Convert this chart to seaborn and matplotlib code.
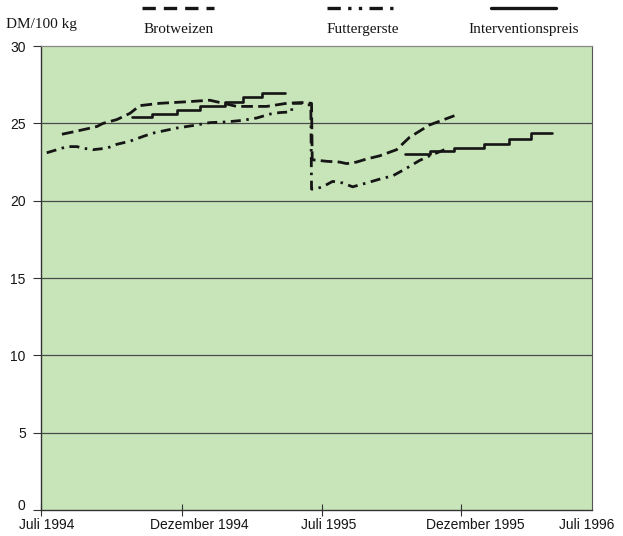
import numpy as np
import pandas as pd
import matplotlib
matplotlib.use("Agg")
import matplotlib.pyplot as plt
from matplotlib.lines import Line2D
from matplotlib.transforms import ScaledTranslation
import seaborn as sns

# x axis: arbitrary time index, one tick interval = 10 units
tick_pos = [0, 10.1, 20.07, 30.07]
label_pos = [0.4, 11.3, 20.6, 31.1, 39.0]
tick_labels = ["Juli 1994", "Dezember 1994", "Juli 1995", "Dezember 1995", "Juli 1996"]

# Brotweizen (DM/100 kg)
brot_x = [1.5, 2.29, 3.29, 4.0, 4.43, 5.43, 6.36, 7.07, 8.5, 10.43, 12.07, 13.29, 14.0,
          16.14, 16.86, 17.57, 18.64, 19.35, 19.4, 20.43, 21.36, 21.86, 22.57, 23.29,
          24.21, 25.43, 26.36, 27.79, 29.57]
brot_y = [24.3, 24.45, 24.65, 24.8, 25.0, 25.25, 25.65, 26.15, 26.3, 26.4, 26.5, 26.25, 26.1,
          26.1, 26.2, 26.3, 26.35, 26.3, 22.65, 22.55, 22.5, 22.4, 22.5, 22.7,
          22.9, 23.3, 24.1, 24.9, 25.5]

# Futtergerste (DM/100 kg)
gerste_x = [0.41, 1.14, 1.86, 2.57, 3.0, 3.71, 4.71, 5.43, 6.36, 7.43, 8.14, 9.71, 11.14,
            12.07, 13.29, 14.43, 15.43, 16.36, 17.07, 17.93, 17.95, 18.64, 19.0, 19.3,
            19.35, 19.57, 20.14, 20.86, 21.57, 22.29, 23.29, 24.43, 25.14, 26.14, 27.07,
            27.79, 28.86]
gerste_y = [23.1, 23.3, 23.5, 23.5, 23.4, 23.3, 23.4, 23.65, 23.85, 24.2, 24.4, 24.7, 24.9,
            25.05, 25.1, 25.2, 25.35, 25.6, 25.7, 25.75, 26.3, 26.3, 26.2, 26.2,
            20.75, 20.75, 20.9, 21.25, 21.15, 20.9, 21.15, 21.45, 21.6, 22.1, 22.6,
            22.9, 23.3]

# Interventionspreis, two marketing years (step function)
inter1_x = [6.48, 7.93, 9.71, 11.36, 13.14, 14.43, 15.79, 17.43]
inter1_y = [25.4, 25.6, 25.85, 26.1, 26.4, 26.7, 26.95, 26.95]
inter2_x = [26.0, 27.79, 29.57, 31.71, 33.5, 35.07, 36.57]
inter2_y = [23.0, 23.2, 23.4, 23.7, 24.0, 24.4, 24.4]

y_ticks = [0, 5, 10, 15, 20, 25, 30]

sns.set_style("white")
plt.rcParams["font.family"] = ["Liberation Sans", "DejaVu Sans"]

BG = "#c7e5b8"
INK = "#151515"

fig = plt.figure(figsize=(6.23, 5.36), dpi=100)
ax = fig.add_axes([0.0658, 0.0485, 0.8842, 0.8655])
ax.set_facecolor(BG)

for yv in y_ticks[1:-1]:
    ax.axhline(yv, color="#4a4a4a", lw=0.9, zorder=1)

lw = 2.0
sns.lineplot(x=brot_x, y=brot_y, ax=ax, estimator=None, sort=False, color=INK, lw=lw)
ax.lines[-1].set_linestyle((0, (4.2, 1.9)))
sns.lineplot(x=gerste_x, y=gerste_y, ax=ax, estimator=None, sort=False, color=INK, lw=lw)
ax.lines[-1].set_linestyle((0, (3.6, 2.0, 0.9, 2.0)))
for sx, sy in [(inter1_x, inter1_y), (inter2_x, inter2_y)]:
    sns.lineplot(x=sx, y=sy, ax=ax, estimator=None, sort=False, color=INK, lw=1.9,
                 drawstyle="steps-post")

ax.set_xlim(0, 39.4)
ax.set_ylim(0, 30)
ax.set_xlabel("")
ax.set_ylabel("")

ax.set_yticks(y_ticks)
ax.tick_params(axis="y", length=6, width=0.8, color="#333", pad=5, labelsize=10,
               labelcolor=INK, left=True)
# the "0" sits slightly above the axis line in the original
ylab0 = ax.get_yticklabels()[0]
ylab0.set_transform(ylab0.get_transform() + ScaledTranslation(0, 4 / 72, fig.dpi_scale_trans))

ax.set_xticks(label_pos, tick_labels)
ax.set_xticks(tick_pos, minor=True)
ax.tick_params(axis="x", which="major", length=0, pad=6, labelsize=10, labelcolor=INK)
ax.tick_params(axis="x", which="minor", direction="inout", length=8, width=0.8,
               color="#333", bottom=True)

for side in ["left", "bottom"]:
    ax.spines[side].set_color("#333")
    ax.spines[side].set_linewidth(1.0)
ax.spines["right"].set_color("#555")
ax.spines["right"].set_linewidth(0.8)
ax.spines["top"].set_color("#888")
ax.spines["top"].set_linewidth(0.9)

# header: unit and legend with sample line above each label
serif = ["Liberation Serif", "DejaVu Serif"]
fig.text(0.01, 0.955, "DM/100 kg", family=serif, fontsize=11, va="center", ha="left",
         color=INK)
legend = [
    ("Brotweizen", 0.286, (0, (4.0, 2.4)), 0.058),
    ("Futtergerste", 0.583, (0, (4.0, 2.2, 1.0, 2.2, 1.0, 2.2)), 0.058),
    ("Interventionspreis", 0.84, "-", 0.052),
]
for name, cx, ls, half in legend:
    fig.add_artist(Line2D([cx - half, cx + half], [0.985, 0.985], color=INK, lw=2.4,
                          linestyle=ls, transform=fig.transFigure))
    fig.text(cx, 0.945, name, family=serif, fontsize=11, ha="center", va="center",
             color=INK)

fig.savefig("out.png", dpi=100)
